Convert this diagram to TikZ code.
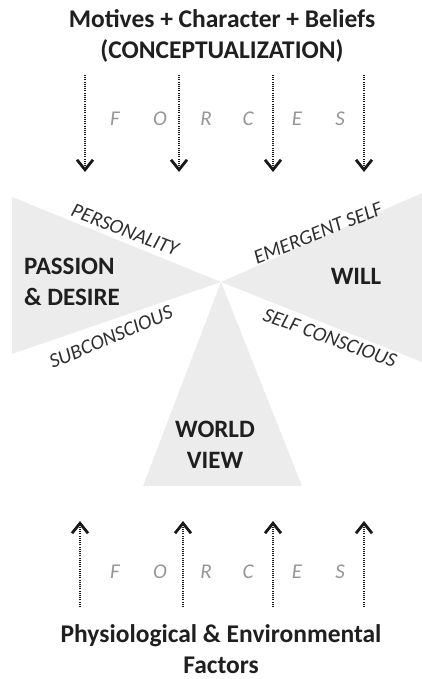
\documentclass[tikz,border=0pt]{standalone}
\usepackage{fontspec}
\setmainfont{Carlito}
\usetikzlibrary{arrows.meta}
\definecolor{wedge}{RGB}{236,236,236}
\definecolor{forcegray}{RGB}{150,150,150}
\tikzset{
  head/.style={font=\bfseries\fontsize{25.5}{31}\selectfont, align=center, text=black!88},
  zone/.style={font=\bfseries\fontsize{25}{31}\selectfont, text=black!88},
  tilt/.style={font=\itshape\fontsize{20.5}{22}\selectfont, text=black!82},
  letter/.style={font=\itshape\fontsize{21}{22}\selectfont, text=forcegray},
  force/.style={line width=2.2pt, dash pattern=on 1.1pt off 1.1pt, black!90, -{Straight Barb[length=10pt,width=16pt,line width=2.8pt]}},
}
\begin{document}
\begin{tikzpicture}[x=1pt,y=-1pt]
\useasboundingbox (0,0) rectangle (422,679);
% wedges
\coordinate (apex) at (221,282);
\fill[wedge] (12,197) -- (apex) -- (12,354) -- cycle;
\fill[wedge] (422,193) -- (apex) -- (422,362) -- cycle;
\fill[wedge] (apex) -- (302,486) -- (143,486) -- cycle;
% headings
\node[head] (top) at (222,36) {Motives + Character + Beliefs\\(CONCEPTUALIZATION)};
\node[head] (bottom) at (221,649) {Physiological \& Environmental\\Factors};
% top arrows
\foreach \i/\x in {1/85,2/179,3/273,4/364}{
  \coordinate (t\i a) at (\x,75);
  \coordinate (t\i b) at (\x,172);
  \draw[force] (t\i a) -- (t\i b);
}
% bottom arrows
\foreach \i/\x in {1/80,2/183,3/273,4/364}{
  \coordinate (b\i a) at (\x,607);
  \coordinate (b\i b) at (\x,521);
  \draw[force] (b\i a) -- (b\i b);
}
% FORCES letters
\foreach \l/\x [count=\k] in {F/115,O/160,R/206,C/248,E/297,S/340}{
  \node[letter] (ft\k) at (\x,119) {\l};
  \node[letter] (fb\k) at (\x,572) {\l};
}
% zone labels
\node[zone, align=left] (passion) at (72,282) {PASSION\\\& DESIRE};
\node[zone] (will) at (356,276) {WILL};
\node[zone, align=center] (world) at (215,445) {WORLD\\VIEW};
% tilted labels
\node[tilt, rotate=-21] (pers) at (125,230) {PERSONALITY};
\node[tilt, rotate=22] (emer) at (318,233) {EMERGENT SELF};
\node[tilt, rotate=23] (sub) at (111,337) {SUBCONSCIOUS};
\node[tilt, rotate=-20] (selfc) at (330,338) {SELF CONSCIOUS};
\end{tikzpicture}
\end{document}
